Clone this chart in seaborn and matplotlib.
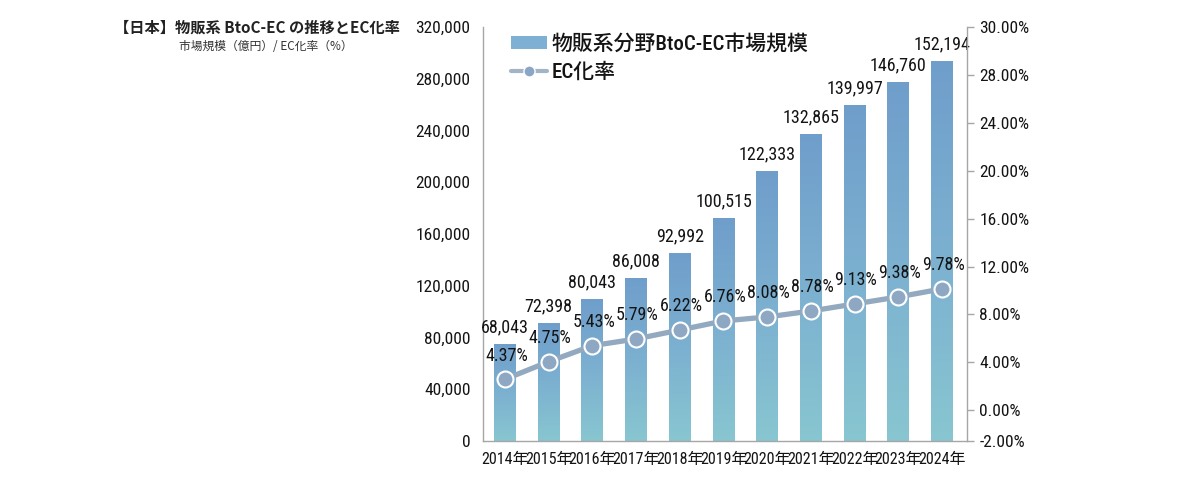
import numpy as np
import pandas as pd
import matplotlib
matplotlib.use("Agg")
import matplotlib.pyplot as plt
import matplotlib.font_manager as fm
import seaborn as sns
from matplotlib.patches import Patch
from matplotlib.lines import Line2D
from matplotlib.colors import LinearSegmentedColormap

# ---------------- data ----------------
years = ["2014年", "2015年", "2016年", "2017年", "2018年", "2019年",
         "2020年", "2021年", "2022年", "2023年", "2024年"]
market_size = [68043, 72398, 80043, 86008, 92992, 100515,
               122333, 132865, 139997, 146760, 152194]          # 億円 (labels)
bar_heights = [75000, 91400, 109800, 126000, 145500, 172100,
               208700, 237300, 259500, 277300, 294000]          # bar heights as drawn
ec_rate = [4.37, 4.75, 5.43, 5.79, 6.22, 6.76, 8.08, 8.78, 9.13, 9.38, 9.78]   # labels (%)
rate_marker_pos = [2.57, 4.04, 5.38, 5.94, 6.69, 7.45, 7.78, 8.28, 8.87, 9.46, 10.13]  # as drawn
left_ticks = [0, 40000, 80000, 120000, 160000, 200000, 240000, 280000, 320000]
rate_ticks = [-2.6, 0, 4, 8, 12, 16, 20, 24, 28, 32.05]
rate_tick_labels = ["-2.00%", "0.00%", "4.00%", "8.00%", "12.00%", "16.00%",
                    "20.00%", "24.00%", "28.00%", "30.00%"]

title = "【日本】物販系 BtoC-EC の推移とEC化率"
subtitle = "市場規模（億円）/ EC化率（%）"
bar_legend = "物販系分野BtoC-EC市場規模"
line_legend = "EC化率"

# ---------------- style ----------------
sns.set_style("white")

# pick a condensed latin face if one is installed
ttf = fm.fontManager.ttflist
names = {f.name for f in ttf}
narrow = None
stretch = "normal"
for cand in ["Liberation Sans Narrow", "Roboto Condensed", "Open Sans Condensed",
             "Noto Sans Condensed", "DejaVu Sans Condensed", "Arial Narrow"]:
    if cand in names:
        narrow = cand
        break
if narrow is None:
    for f in ttf:
        st = str(f.stretch).lower()
        if ("condensed" in st or st.isdigit() and int(st) < 500) and f.name in (
                "DejaVu Sans", "Noto Sans", "Roboto", "Open Sans", "Liberation Sans"):
            narrow = f.name
            stretch = "condensed"
            break
condensed = narrow is not None
FAM = ([narrow] if condensed else []) + ["Noto Sans CJK JP", "DejaVu Sans"]
CJK = ["Noto Sans CJK JP", "DejaVu Sans"]
plt.rcParams["font.family"] = FAM
plt.rcParams["font.stretch"] = stretch
TXT = "#141414"
GRAY = "#a6a6a6"
NUM_FS = 13 if condensed else 10.5
TICK_FS = 12.5 if condensed else 10.5
YEAR_FS = 11.5 if condensed else 9.6
WEIGHT = "normal"

fig = plt.figure(figsize=(12, 5), dpi=100)
fig.patch.set_facecolor("white")
ax = fig.add_axes([483 / 1200, 59 / 500, (966.7 - 483) / 1200, 414 / 500])

df = pd.DataFrame({"year": years, "height": bar_heights})
sns.barplot(data=df, x="year", y="height", ax=ax, width=0.5,
            color="#7aaed0", saturation=1, edgecolor="none")

# gradient fill per bar
cmap = LinearSegmentedColormap.from_list("g", ["#88c6d0", "#7cb0d0", "#6f9ecb"])
grad = np.linspace(0, 1, 256).reshape(-1, 1)
for p in ax.patches:
    x0, y0 = p.get_x(), p.get_y()
    w, h = p.get_width(), p.get_height()
    p.set_facecolor("none")
    im = ax.imshow(grad, extent=[x0, x0 + w, y0, y0 + h], origin="lower",
                   aspect="auto", cmap=cmap, zorder=2)
    im.set_clip_path(p)

ax.set_xlim(-0.503, 10.565)
ax.set_ylim(0, 320000)
ax.set_yticks(left_ticks)
ax.set_yticklabels([f"{v:,}" for v in left_ticks])
ax.set_xlabel("")
ax.set_ylabel("")
ax.tick_params(axis="both", length=0, labelsize=TICK_FS, colors=TXT)
ax.tick_params(axis="y", pad=9)
ax.tick_params(axis="x", pad=8, labelsize=YEAR_FS)
for lab in ax.get_xticklabels() + ax.get_yticklabels():
    lab.set_fontweight(WEIGHT)
for s in ["top", "right"]:
    ax.spines[s].set_visible(False)
for s in ["left", "bottom"]:
    ax.spines[s].set_color(GRAY)
    ax.spines[s].set_linewidth(1)

for i, (h, v) in enumerate(zip(bar_heights, market_size)):
    ax.annotate(f"{v:,}", (i, h), xytext=(0, 12), textcoords="offset points",
                ha="center", va="center", fontsize=NUM_FS, color=TXT,
                fontweight=WEIGHT)

# ---------------- line on right axis ----------------
ax2 = ax.twinx()
pos = np.arange(len(years))
sns.lineplot(x=pos, y=rate_marker_pos, ax=ax2, color="#93a9bf", linewidth=3.8,
             marker="o", markersize=11.5, markerfacecolor="#8ea8c4",
             markeredgecolor="white", markeredgewidth=1.5)
ax2.set_ylim(rate_ticks[0], rate_ticks[-1])
ax2.set_yticks(rate_ticks)
ax2.set_yticklabels(rate_tick_labels)
ax2.set_xlim(-0.503, 10.565)
ax2.tick_params(axis="y", length=5, width=1, color=GRAY, labelsize=TICK_FS,
                labelcolor=TXT, pad=4)
for lab in ax2.get_yticklabels():
    lab.set_fontweight(WEIGHT)
for s in ["top", "left", "bottom"]:
    ax2.spines[s].set_visible(False)
ax2.spines["right"].set_color(GRAY)
ax2.spines["right"].set_linewidth(1)
ax2.set_ylabel("")

for i, (yv, r) in enumerate(zip(rate_marker_pos, ec_rate)):
    ax2.annotate(f"{r:.2f}%", (i, yv), xytext=(1, 17), textcoords="offset points",
                 ha="center", va="center", fontsize=NUM_FS, color=TXT,
                 fontweight=WEIGHT)

# ---------------- legend ----------------
handles = [Patch(facecolor="#7eb0d3", edgecolor="none"),
           Line2D([0], [0], color="#a2b5c7", linewidth=3, marker="o",
                  markersize=8, markerfacecolor="#8aa6c6", markeredgecolor="white")]
leg = fig.legend(handles, [bar_legend, line_legend], loc="upper left",
                 bbox_to_anchor=(511 / 1200, (500 - 34) / 500),
                 bbox_transform=fig.transFigure, frameon=False,
                 prop={"family": FAM, "size": 15 if condensed else 14,
                       "weight": "medium"},
                 handlelength=1.75, handleheight=0.6, handletextpad=0.2,
                 labelspacing=0.4, borderpad=0, borderaxespad=0)
for t in leg.get_texts():
    t.set_color(TXT)

# ---------------- titles ----------------
fig.text(257 / 1200, (500 - 28) / 500, title, ha="center", va="center",
         fontsize=11, fontweight="bold", color="#222222", family=CJK)
fig.text(266 / 1200, (500 - 46) / 500, subtitle, ha="center", va="center",
         fontsize=8.5, color="#333333", family=CJK)

fig.savefig("out.png", dpi=100, facecolor="white")
